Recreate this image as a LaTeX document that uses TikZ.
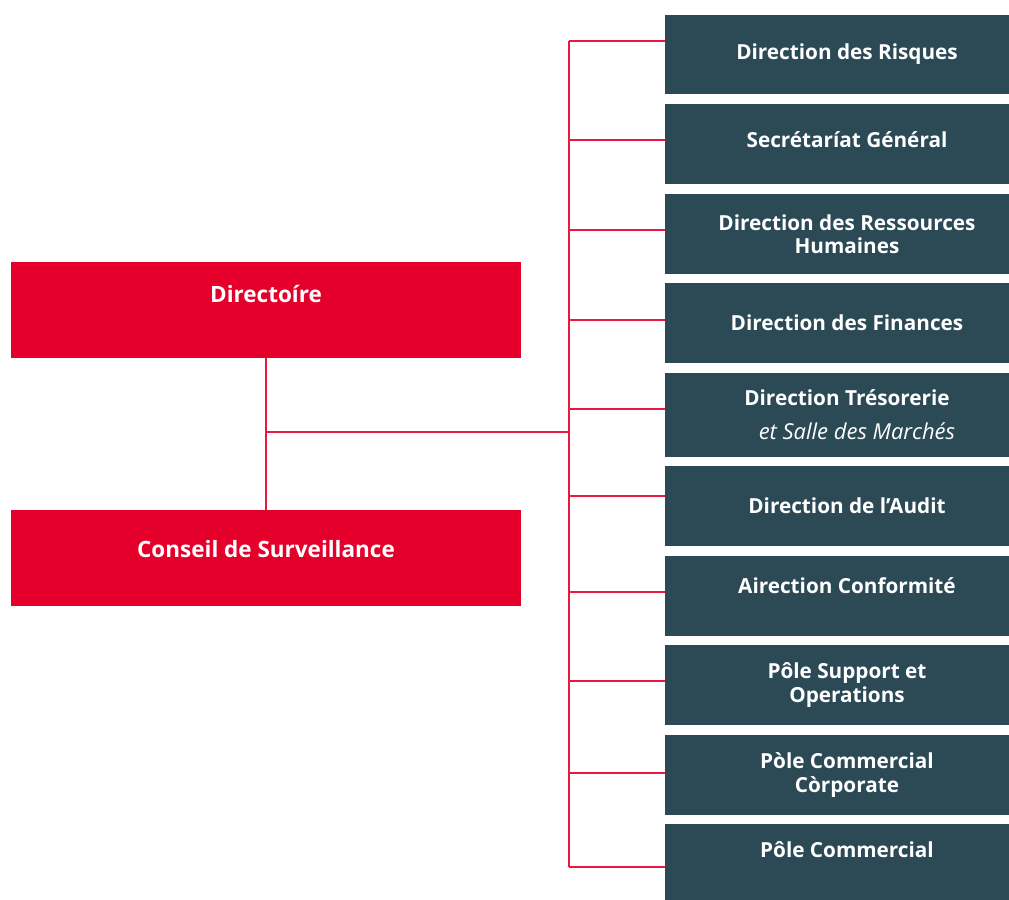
\documentclass[tikz,border=0pt]{standalone}
\usepackage{fontspec}
\setmainfont{Open Sans}
\definecolor{boardred}{RGB}{228,0,43}
\definecolor{deptblue}{RGB}{43,74,86}
\tikzset{
  board/.style={fill=boardred,text=white,font=\bfseries\fontsize{12.8}{14.5}\selectfont,
    minimum width=10.2cm,minimum height=1.92cm,inner sep=0pt},
  dept/.style={fill=deptblue,text=white,font=\bfseries\fontsize{11.8}{13.2}\selectfont,
    minimum width=7.28cm,minimum height=1.6cm,inner sep=0pt,align=center},
  link/.style={draw=boardred!90,line width=0.8pt}
}
\begin{document}
\begin{tikzpicture}[x=0.02cm,y=-0.02cm]
\useasboundingbox[fill=white] (0,0) rectangle (1009,900);
% boards on the left
\node[board,text depth=0.64cm] (dir) at (266,310) {Directoíre};
\node[board,text depth=0.36cm] (cons) at (266,558) {Conseil de Surveillance};
% departments on the right
\node[dept] (risk) at (847,54.5) {Direction des Risques};
\node[dept,text depth=0.16cm] (sec) at (847,144) {Secrétaríat Général};
\node[dept] (rh) at (847,234) {Direction des Ressources\\Humaines};
\node[dept] (fin) at (847,323) {Direction des Finances};
\node[dept,minimum height=1.68cm] (treso) at (847,415)
  {Direction Trésorerie\\[6pt]\hspace*{0.4cm}\normalfont\itshape\fontsize{12.5}{14}\selectfont et Salle des Marchés};
\node[dept] (audit) at (847,506) {Direction de l'Audit};
\node[dept,text depth=0.4cm] (conf) at (847,596) {Airection Conformité};
\node[dept] (supp) at (847,685) {Pôle Support et\\Operations};
\node[dept] (corp) at (847,775) {Pòle Commercial\\Còrporate};
\node[dept,text depth=0.56cm] (com) at (847,864) {Pôle Commercial};
% bus and branch points
\coordinate (hub) at (266,432);
\coordinate (b1) at (569,41);
\coordinate (b2) at (569,140);
\coordinate (b3) at (569,230);
\coordinate (b4) at (569,320);
\coordinate (b5) at (569,409);
\coordinate (b6) at (569,496);
\coordinate (b7) at (569,592);
\coordinate (b8) at (569,681);
\coordinate (b9) at (569,773);
\coordinate (b10) at (569,867);
\draw[link]
  (dir) edge (cons)
  (hub) edge (hub -| b1)
  (b1) edge (b10)
  (b1) edge (b1 -| risk.west)
  (b2) edge (b2 -| sec.west)
  (b3) edge (b3 -| rh.west)
  (b4) edge (b4 -| fin.west)
  (b5) edge (b5 -| treso.west)
  (b6) edge (b6 -| audit.west)
  (b7) edge (b7 -| conf.west)
  (b8) edge (b8 -| supp.west)
  (b9) edge (b9 -| corp.west)
  (b10) edge (b10 -| com.west)
;
\end{tikzpicture}
\end{document}
